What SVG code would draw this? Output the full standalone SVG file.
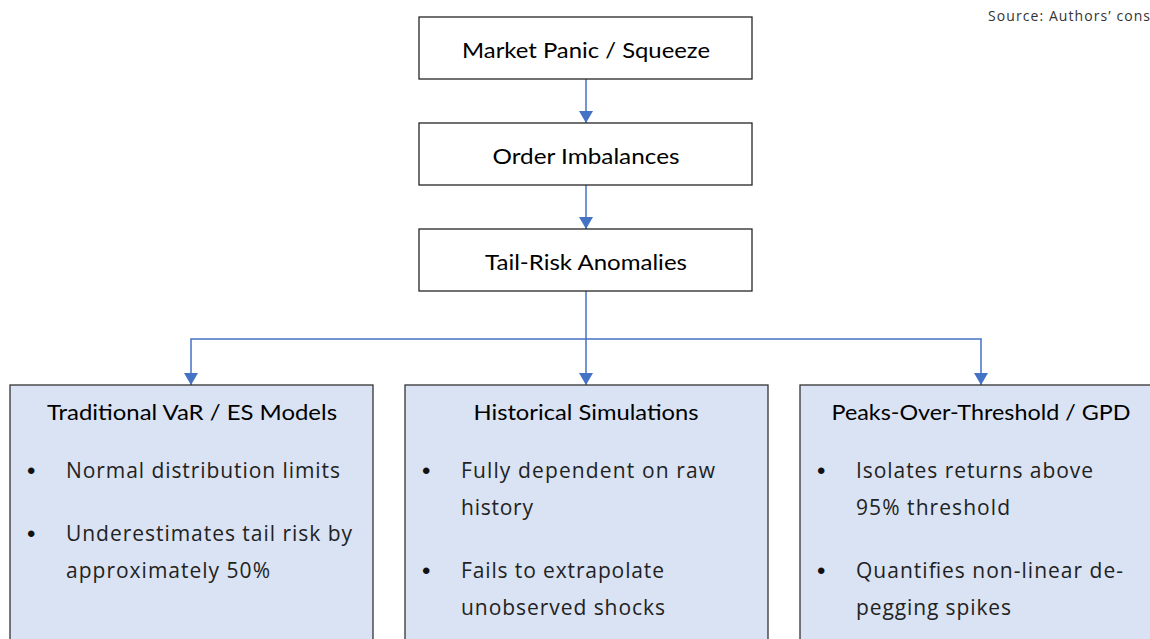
<svg xmlns="http://www.w3.org/2000/svg" width="1150" height="639" viewBox="0 0 1150 639">
<style>
.top{fill:#fff;stroke:#262626;stroke-width:1.3}
.bot{fill:#dae3f3;stroke:#333;stroke-width:1.3}
.t{font-family:Lato,"Liberation Sans",sans-serif;font-size:22px;fill:#000;text-anchor:middle}
.b{font-family:"Open Sans","Liberation Sans",sans-serif;font-size:21px;fill:#222}
.d{font-family:"Liberation Sans",sans-serif;font-size:24px;fill:#111}
.src{font-family:"Open Sans","Liberation Sans",sans-serif;font-size:14px;fill:#333}
.c{fill:none;stroke:#4472c4;stroke-width:1.5}
</style>
<defs>
<marker id="ah" viewBox="0 0 12 14" refX="12" refY="7" markerWidth="12" markerHeight="14" markerUnits="userSpaceOnUse" orient="auto">
<path d="M0,0 L12,7 L0,14 Z" fill="#4472c4"/>
</marker>
</defs>
<rect width="1150" height="639" fill="#fff"/>
<text class="src" x="988" y="21" textLength="162">Source: Authors’ cons</text>
<g id="connectors">
<path class="c" d="M586,79 V123" marker-end="url(#ah)"/>
<path class="c" d="M586,185 V229" marker-end="url(#ah)"/>
<path class="c" d="M586,291 V385" marker-end="url(#ah)"/>
<path class="c" d="M586,339 H191 V385" marker-end="url(#ah)"/>
<path class="c" d="M586,339 H981 V385" marker-end="url(#ah)"/>
</g>
<g id="n1"><rect class="top" x="419" y="17" width="333" height="62"/><text class="t" x="586" y="58" textLength="248" lengthAdjust="spacingAndGlyphs">Market Panic / Squeeze</text></g>
<g id="n2"><rect class="top" x="419" y="123" width="333" height="62"/><text class="t" x="586" y="164" textLength="187" lengthAdjust="spacingAndGlyphs">Order Imbalances</text></g>
<g id="n3"><rect class="top" x="419" y="229" width="333" height="62"/><text class="t" x="586" y="270" textLength="202" lengthAdjust="spacingAndGlyphs">Tail-Risk Anomalies</text></g>
<g id="n4"><rect class="bot" x="10" y="385" width="363" height="270"/>
<text class="t" x="192" y="420" textLength="290" lengthAdjust="spacingAndGlyphs">Traditional VaR / ES Models</text>
<text class="d" x="27" y="479">•</text><text class="b" x="66" y="478" textLength="274">Normal distribution limits</text>
<text class="d" x="27" y="542">•</text><text class="b" x="66" y="541" textLength="286">Underestimates tail risk by</text>
<text class="b" x="66" y="578" textLength="204">approximately 50%</text>
</g>
<g id="n5"><rect class="bot" x="405" y="385" width="363" height="270"/>
<text class="t" x="586" y="420" textLength="225" lengthAdjust="spacingAndGlyphs">Historical Simulations</text>
<text class="d" x="422" y="479">•</text><text class="b" x="461" y="478" textLength="254">Fully dependent on raw</text>
<text class="b" x="461" y="515" textLength="72">history</text>
<text class="d" x="422" y="579">•</text><text class="b" x="461" y="578" textLength="203">Fails to extrapolate</text>
<text class="b" x="461" y="615" textLength="204">unobserved shocks</text>
</g>
<g id="n6"><rect class="bot" x="800" y="385" width="363" height="270"/>
<text class="t" x="981" y="420" textLength="299" lengthAdjust="spacingAndGlyphs">Peaks-Over-Threshold / GPD</text>
<text class="d" x="817" y="479">•</text><text class="b" x="856" y="478" textLength="237">Isolates returns above</text>
<text class="b" x="856" y="515" textLength="154">95% threshold</text>
<text class="d" x="817" y="579">•</text><text class="b" x="856" y="578" textLength="267">Quantifies non-linear de-</text>
<text class="b" x="856" y="615" textLength="155">pegging spikes</text>
</g>
</svg>
